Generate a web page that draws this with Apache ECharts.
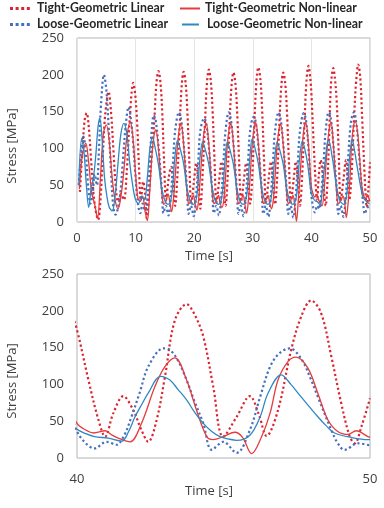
<!DOCTYPE html>
<html><head><meta charset="utf-8">
<script src="https://cdn.jsdelivr.net/npm/echarts@6/dist/echarts.min.js"></script>
<style>html,body{margin:0;padding:0;background:#fff}#c{width:384px;height:508px}</style>
</head><body><div id="c"></div>
<script>
// Series values: [time (s), stress (MPa)]
const tightLinear = [
[0.5,41],[0.9,95],[1.3,138],[1.65,148],[2.0,130],[2.4,85],[2.8,40],[3.2,15],[3.6,3],[4.0,30],[4.4,90],[4.8,145],[5.4,177],[5.8,150],[6.2,100],[6.6,50],[7.0,28],[7.5,38],[8.0,30],[8.5,70],[9.0,140],[9.6,189],
[9.95,172],[10.25,136],[10.55,80],[10.9,30],[11.3,55],[11.6,40],[11.9,5],[12.3,40],[12.75,90],[13.2,140],[13.55,188],[13.9,205],
[14.25,189],[14.55,148],[14.85,86],[15.2,30],[15.65,60],[16.05,75],[16.4,55],[16.75,22],[17.1,58],
[17.5,126],[17.85,184],[18.2,204],[18.55,188],[18.85,147],[19.15,86],[19.5,24],[19.95,55],[20.35,80],[20.7,56],[21.05,18],[21.4,60],
[21.8,128],[22.15,186],[22.5,207],[22.85,190],[23.15,149],[23.45,87],[23.8,26],[24.25,56],[24.65,82],[25.0,58],[25.35,22],[25.7,60],
[26.0,126],[26.35,183],[26.7,203],[27.05,187],[27.35,146],[27.65,85],[28.0,28],[28.45,55],[28.85,80],[29.2,57],[29.55,25],[29.9,60],
[30.25,130],[30.6,189],[30.95,210],[31.3,193],[31.6,151],[31.9,88],[32.25,26],[32.7,58],[33.1,82],[33.45,58],[33.8,24],[34.15,60],
[34.5,126],[34.85,183],[35.2,203],[35.55,187],[35.85,146],[36.15,85],[36.5,27],[36.95,56],[37.35,82],[37.7,57],[38.05,22],[38.4,60],
[38.8,131],[39.15,191],[39.5,212],[39.8,196],[40.0,174],[40.39,106],[40.73,52],[40.96,29],[41.24,61],[41.58,84],[41.92,65],[42.2,38],[42.43,22],[42.72,52],[43.0,110],[43.34,187],[43.74,209],
[44.0,196],[44.31,165],[44.65,97],[44.99,29],[45.45,56],[45.9,84],[46.2,60],[46.47,30],[46.86,65],[47.31,147],[47.65,192],[47.99,214],
[48.33,197],[48.68,138],[49.02,74],[49.31,29],[49.48,20],[49.71,43],[50.0,81]
];
const tightNonlinear = [
[0.4,45],[0.9,90],[1.5,107],[2.0,80],[2.5,40],[3.0,25],[3.5,5],[4.0,60],[4.5,120],[5.0,132],[5.5,110],[6.0,60],[6.5,30],[7.0,18],[7.5,35],[8.0,70],[8.5,115],[9.1,136],[9.6,110],[10.0,65],[10.4,32],[10.8,28],[11.2,35],[11.6,15],[12.0,2],[12.4,40],
[12.8,92],[13.15,118],[13.45,125],[13.9,100],[14.25,62],[14.6,30],[14.85,24],[15.15,28],[15.55,38],[15.85,27],[16.15,14],[16.45,30],[16.75,62],
[17.1,100],[17.45,126],[17.75,134],[18.2,105],[18.55,64],[18.9,30],[19.15,25],[19.45,29],[19.85,36],[20.15,25],[20.45,16],[20.75,30],[21.05,62],
[21.4,100],[21.75,126],[22.05,134],[22.5,105],[22.85,64],[23.2,30],[23.45,25],[23.75,29],[24.15,36],[24.45,25],[24.75,20],[25.05,30],[25.35,62],
[25.6,100],[25.95,126],[26.25,134],[26.7,105],[27.05,64],[27.4,30],[27.65,25],[27.95,29],[28.35,36],[28.65,24],[28.95,12],[29.25,30],[29.55,62],
[29.85,100],[30.2,127],[30.5,135],[30.95,106],[31.3,65],[31.65,30],[31.9,25],[32.2,29],[32.6,36],[32.9,25],[33.2,18],[33.5,30],[33.8,62],
[34.1,100],[34.45,125],[34.75,133],[35.2,104],[35.55,64],[35.9,30],[36.15,25],[36.45,29],[36.85,36],[37.15,22],[37.45,1],[37.75,28],[38.05,62],
[38.4,100],[38.75,128],[39.05,135],[39.5,105],[39.8,68],[40.0,47],[40.3,38],[40.56,34],[40.96,37],[41.2,31],[41.41,27],[41.81,22],[42.2,47],[42.66,97],[43.0,124],[43.34,136],
[43.74,106],[44.08,65],[44.43,29],[44.65,25],[44.99,29],[45.39,35],[45.65,28],[45.96,6],[46.3,29],[46.59,61],[46.86,106],[47.2,131],[47.48,137],
[47.88,122],[48.22,88],[48.56,52],[48.9,36],[49.25,32],[49.53,37],[49.93,29],[50.0,28]
];
const looseLinear = [
[0.3,50],[0.7,95],[1.1,116],[1.5,95],[1.9,50],[2.3,25],[2.7,40],[3.0,65],[3.4,50],[3.7,90],[4.1,160],[4.6,200],[5.0,180],[5.4,130],[5.8,70],[6.2,20],[6.6,10],[7.0,20],[7.4,40],[7.8,80],[8.3,130],[8.8,156],[9.2,140],[9.6,105],[10.0,60],[10.4,25],[10.8,12],[11.2,25],[11.6,15],[12.0,30],[12.4,80],[12.75,125],[13.1,145],
[13.45,137],[13.9,104],[14.2,74],[14.47,44],[14.76,12],[15.15,22],[15.6,9],[16.05,38],[16.4,83],[16.75,124],
[17.4,149],[17.75,140],[18.2,106],[18.5,75],[18.77,45],[19.06,11],[19.45,22],[19.9,8],[20.35,38],[20.7,83],[21.05,124],
[21.7,141],[22.05,134],[22.5,102],[22.8,72],[23.07,44],[23.36,12],[23.75,22],[24.2,9],[24.65,38],[25.0,83],[25.35,124],
[25.9,149],[26.25,140],[26.7,106],[27.0,75],[27.27,45],[27.56,11],[27.95,22],[28.4,8],[28.85,38],[29.2,83],[29.55,124],
[30.15,143],[30.5,136],[30.95,104],[31.25,74],[31.52,44],[31.81,11],[32.2,22],[32.65,7],[33.1,38],[33.45,83],[33.8,124],
[34.4,149],[34.75,140],[35.2,106],[35.5,75],[35.77,45],[36.06,11],[36.45,22],[36.9,6],[37.35,38],[37.7,83],[38.05,124],
[38.7,148],[39.05,140],[39.5,100],[39.8,60],[40.0,36],[40.3,20],[40.6,13],[41.0,22],[41.35,18],[41.6,30],[41.86,56],[42.15,90],[42.43,124],[42.95,149],[43.17,147],
[43.45,132],[43.74,106],[44.0,78],[44.31,47],[44.6,11],[44.99,22],[45.45,7],[45.9,38],[46.25,83],[46.59,124],[46.9,142],[47.26,149],
[47.65,135],[47.95,110],[48.22,83],[48.68,38],[48.9,20],[49.13,11],[49.59,20],[50.0,17]
];
const looseNonlinear = [
[0.3,50],[0.8,114],[1.2,95],[1.6,50],[2.0,20],[2.4,45],[2.8,60],[3.2,90],[3.6,130],[3.9,141],[4.3,110],[4.7,60],[5.1,35],[5.5,20],[6.0,15],[6.5,35],[7.0,80],[7.5,120],[8.0,134],[8.5,120],[9.0,80],[9.5,50],[10.0,30],[10.5,25],[11.0,35],[11.5,30],[12.0,60],[12.45,100],
[12.9,115],[13.3,102],[13.9,78],[14.45,46],[15.0,29],[15.55,24],[16.05,31],[16.4,56],[16.7,88],
[17.15,111],[17.6,100],[18.2,79],[18.75,47],[19.3,29],[19.85,24],[20.35,31],[20.7,56],[21.0,88],
[21.45,109],[21.9,98],[22.5,78],[23.05,47],[23.6,29],[24.15,24],[24.65,31],[25.0,56],[25.3,88],
[25.65,109],[26.1,98],[26.7,78],[27.25,47],[27.8,29],[28.35,24],[28.85,31],[29.2,56],[29.5,88],
[29.9,113],[30.35,101],[30.95,79],[31.5,47],[32.05,29],[32.6,24],[33.1,31],[33.45,56],[33.75,88],
[34.15,109],[34.6,98],[35.2,78],[35.75,47],[36.3,29],[36.85,24],[37.35,31],[37.7,56],[38.0,88],
[38.45,110],[38.85,100],[39.35,79],[39.85,46],[40.0,39],[40.3,33],[40.6,29],[41.07,27],[41.53,23],[41.75,35],[41.98,56],[42.2,72],[42.43,88],[42.85,111],
[43.17,106],[43.45,93],[43.74,79],[44.0,63],[44.31,47],[44.6,36],[44.88,29],[45.15,26],[45.45,24],[45.9,31],[46.25,56],[46.52,88],[46.97,113],
[47.3,100],[47.65,83],[48.22,56],[48.5,44],[48.79,34],[49.36,28],[49.93,25],[50.0,25]
];
const seriesNames = ['Tight-Geometric Linear','Tight-Geometric Non-linear','Loose-Geometric Linear','Loose-Geometric Non-linear'];
const yTitle = 'Stress [MPa]';
const xTitle = 'Time [s]';

const C = {tl:'#dc2430', tn:'#e63b3d', bl:'#4670bf', bn:'#2e88c2'};
const FONT = 'Open Sans';
const LFONT = 'Lato';
const chart = echarts.init(document.getElementById('c'), null, {renderer:'canvas'});

function mkSeries(name, data, color, dotted, idx){
  return {
    name, type:'line', data, xAxisIndex:idx, yAxisIndex:idx,
    showSymbol:false, symbol:'none', smooth:0.35, clip:true, animation:false,
    lineStyle: dotted ? {color, width:2.2, type:[2.2,2.6], cap:'butt'} : {color, width:1.3},
    z: dotted ? 2 : 3
  };
}
const series = [];
[0,1].forEach(i=>{
  series.push(mkSeries(seriesNames[0], tightLinear, C.tl, true, i));
  series.push(mkSeries(seriesNames[2], looseLinear, C.bl, true, i));
  series.push(mkSeries(seriesNames[1], tightNonlinear, C.tn, false, i));
  series.push(mkSeries(seriesNames[3], looseNonlinear, C.bn, false, i));
});

const axisLbl = {color:'#404040', fontFamily:FONT, fontSize:13};
const legendText = (x,y,t)=>({type:'text', x, y, style:{text:t, fill:'#262626', font:'bold 12.3px '+LFONT, textVerticalAlign:'middle'}});
const legendLine = (x1,x2,y,color,dotted)=>({type:'line', shape:{x1,y1:y,x2,y2:y}, style: dotted?{stroke:color, lineWidth:3, lineDash:[3,2.6]}:{stroke:color, lineWidth:2}});

chart.setOption({
  backgroundColor:'#fff',
  animation:false,
  grid:[
    {left:77, right:14, top:38, height:184, show:true, borderColor:'#b4b4b4', borderWidth:1, backgroundColor:'transparent'},
    {left:77, right:14, top:274, height:184, show:true, borderColor:'#b4b4b4', borderWidth:1, backgroundColor:'transparent'}
  ],
  xAxis:[
    {type:'value', gridIndex:0, min:0, max:50, interval:10, axisLine:{show:false}, axisTick:{show:false},
     axisLabel:Object.assign({margin:10}, axisLbl), splitLine:{show:true, lineStyle:{color:'#e4e4e4', width:1}}},
    {type:'value', gridIndex:1, min:40, max:50, interval:10, axisLine:{show:false}, axisTick:{show:false},
     axisLabel:Object.assign({margin:15}, axisLbl), splitLine:{show:false}}
  ],
  yAxis:[
    {type:'value', gridIndex:0, min:0, max:250, interval:50, axisLine:{show:false}, axisTick:{show:false},
     axisLabel:Object.assign({margin:13}, axisLbl), splitLine:{show:false}},
    {type:'value', gridIndex:1, min:0, max:250, interval:50, axisLine:{show:false}, axisTick:{show:false},
     axisLabel:Object.assign({margin:13}, axisLbl), splitLine:{show:false}}
  ],
  series,
  graphic:[
    legendLine(10,32,8.5,C.tl,true), legendText(37,8.5,seriesNames[0]),
    legendLine(180,200,8.5,C.tn,false), legendText(205,8.5,seriesNames[1]),
    legendLine(10,32,24.5,C.bl,true), legendText(37,24.5,seriesNames[2]),
    legendLine(182,199,24.5,C.bn,false), legendText(207,24.5,seriesNames[3]),
    {type:'text', x:12.5, y:146, rotation:Math.PI/2, style:{text:yTitle, fill:'#404040', font:'13px '+FONT, textAlign:'center', textVerticalAlign:'middle'}},
    {type:'text', x:12.5, y:381, rotation:Math.PI/2, style:{text:yTitle, fill:'#404040', font:'13px '+FONT, textAlign:'center', textVerticalAlign:'middle'}},
    {type:'text', x:209, y:256, style:{text:xTitle, fill:'#404040', font:'13px '+FONT, textAlign:'center', textVerticalAlign:'middle'}},
    {type:'text', x:209, y:491, style:{text:xTitle, fill:'#404040', font:'13px '+FONT, textAlign:'center', textVerticalAlign:'middle'}}
  ]
});
</script></body></html>
